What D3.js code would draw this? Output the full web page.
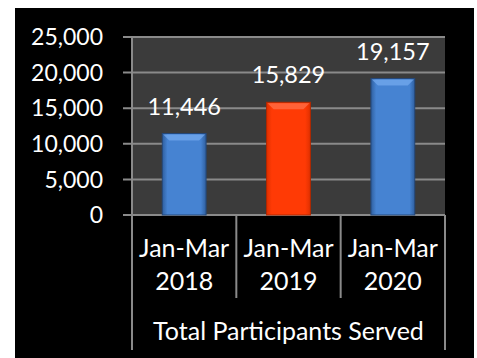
<!DOCTYPE html>
<html>
<head>
<meta charset="utf-8">
<script src="https://cdn.jsdelivr.net/npm/d3@7"></script>
<style>
  html, body { margin: 0; padding: 0; background: #fff; }
  svg { display: block; }
  text { font-family: Lato, "Open Sans", sans-serif; fill: #fff; }
</style>
</head>
<body>
<svg id="chart" width="477" height="358"></svg>
<script>
// chart data
const periods = ['Jan-Mar', 'Jan-Mar', 'Jan-Mar'];
const years = ['2018', '2019', '2020'];
const participants = [11446, 15829, 19157];
const barColors = ['blue', 'red', 'blue'];
const yTicks = [0, 5000, 10000, 15000, 20000, 25000];
const groupTitle = 'Total Participants Served';

const svg = d3.select('#chart');
const plot = {left: 132, right: 445, top: 37, bottom: 215};

// black card behind the chart
svg.append('rect')
  .attr('x', 15).attr('y', 8)
  .attr('width', 459).attr('height', 350)
  .attr('fill', '#000');

const xScale = d3.scaleBand()
  .domain(years)
  .range([plot.left, plot.right])
  .padding(0);

const yScale = d3.scaleLinear()
  .domain([0, 25000])
  .range([plot.bottom, plot.top]);

// gradients for the bevelled bars
const defs = svg.append('defs');
const palette = {
  blue: {edge: '#2f5f9f', mid: '#4683d2', top: '#74aaed', border: '#24487a'},
  red: {edge: '#e03000', mid: '#ff3a05', top: '#ff7048', border: '#b02800'}
};
Object.entries(palette).forEach(([name, c]) => {
  const g = defs.append('linearGradient').attr('id', 'grad-' + name)
    .attr('x1', '0').attr('x2', '1').attr('y1', '0').attr('y2', '0');
  g.append('stop').attr('offset', '0%').attr('stop-color', c.edge);
  g.append('stop').attr('offset', '12%').attr('stop-color', c.mid);
  g.append('stop').attr('offset', '88%').attr('stop-color', c.mid);
  g.append('stop').attr('offset', '100%').attr('stop-color', c.edge);
});

// plot background
svg.append('rect')
  .attr('x', plot.left).attr('y', plot.top)
  .attr('width', plot.right - plot.left)
  .attr('height', plot.bottom - plot.top)
  .attr('fill', '#3b3b3b');

// gridlines
svg.append('g')
  .selectAll('line')
  .data(yTicks)
  .enter().append('line')
  .attr('x1', plot.left - 9)
  .attr('x2', plot.right)
  .attr('y1', d => yScale(d))
  .attr('y2', d => yScale(d))
  .attr('stroke', '#8a8a8a')
  .attr('stroke-width', 2);

// y axis line
svg.append('line')
  .attr('x1', plot.left).attr('x2', plot.left)
  .attr('y1', plot.top).attr('y2', plot.bottom)
  .attr('stroke', '#8a8a8a').attr('stroke-width', 2);

// y tick labels
svg.append('g')
  .selectAll('text')
  .data(yTicks)
  .enter().append('text')
  .attr('x', 103)
  .attr('y', d => yScale(d))
  .attr('dy', '0.36em')
  .attr('text-anchor', 'end')
  .style('font-size', '23px')
  .text(d => d3.format(',')(d));

// bars
const barWidth = xScale.bandwidth() * 0.42;
const bevel = 7;
const bars = svg.append('g')
  .selectAll('g')
  .data(years.map((y, i) => ({year: y, value: participants[i], color: barColors[i]})))
  .enter().append('g');

bars.append('rect')
  .attr('x', d => xScale(d.year) + (xScale.bandwidth() - barWidth) / 2)
  .attr('y', d => yScale(d.value))
  .attr('width', barWidth)
  .attr('height', d => plot.bottom - yScale(d.value))
  .attr('fill', d => `url(#grad-${d.color})`)
  .attr('stroke', d => palette[d.color].border)
  .attr('stroke-width', 1);

// top bevel of each bar
bars.append('polygon')
  .attr('points', d => {
    const x0 = xScale(d.year) + (xScale.bandwidth() - barWidth) / 2;
    const x1 = x0 + barWidth;
    const y0 = yScale(d.value);
    return [[x0 + 1, y0 + 1], [x1 - 1, y0 + 1], [x1 - bevel, y0 + bevel], [x0 + bevel, y0 + bevel]]
      .map(p => p.join(',')).join(' ');
  })
  .attr('fill', d => palette[d.color].top)
  .attr('opacity', 0.75);

// value labels
bars.append('text')
  .attr('x', d => xScale(d.year) + xScale.bandwidth() / 2)
  .attr('y', d => yScale(d.value) - 19)
  .attr('text-anchor', 'middle')
  .style('font-size', '23.5px')
  .text(d => d3.format(',')(d.value));

// category separators
const bounds = years.map(y => xScale(y)).concat([plot.right]);
svg.append('g')
  .selectAll('line')
  .data(bounds)
  .enter().append('line')
  .attr('x1', d => d).attr('x2', d => d)
  .attr('y1', plot.bottom)
  .attr('y2', (d, i) => (i === 0 || i === bounds.length - 1) ? 350 : 298)
  .attr('stroke', '#8a8a8a')
  .attr('stroke-width', 2);

// category labels
const cats = svg.append('g')
  .selectAll('text')
  .data(years)
  .enter().append('text')
  .attr('text-anchor', 'middle')
  .style('font-size', '25px');
cats.append('tspan')
  .attr('x', d => xScale(d) + xScale.bandwidth() / 2)
  .attr('y', 257)
  .text((d, i) => periods[i]);
cats.append('tspan')
  .attr('x', d => xScale(d) + xScale.bandwidth() / 2)
  .attr('y', 290)
  .text(d => d);

// group title
svg.append('text')
  .attr('x', (plot.left + plot.right) / 2)
  .attr('y', 340)
  .attr('text-anchor', 'middle')
  .style('font-size', '25px')
  .text(groupTitle);
</script>
</body>
</html>
